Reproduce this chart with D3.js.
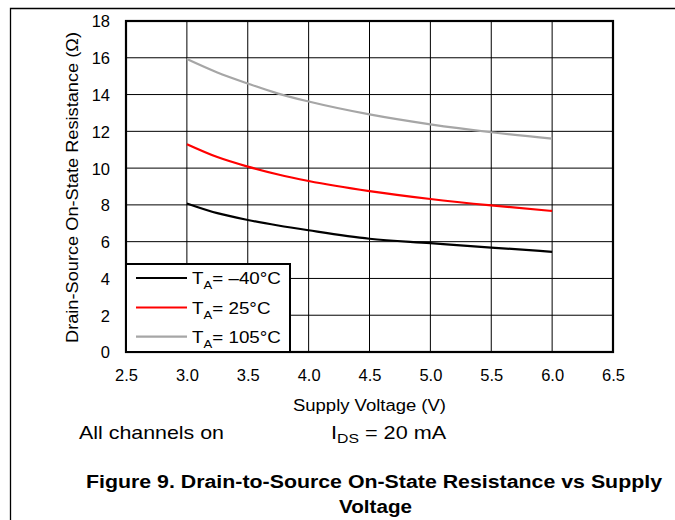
<!DOCTYPE html>
<html>
<head>
<meta charset="utf-8">
<script src="https://cdn.jsdelivr.net/npm/d3@7"></script>
<style>
  html, body { margin: 0; padding: 0; background: #fff; }
  svg { display: block; font-family: "Liberation Sans", Arial, sans-serif; }
</style>
</head>
<body>
<svg id="chart" width="675" height="520"></svg>
<script>
// Supply voltage (V) sample points
const voltage = [3.0, 3.25, 3.5, 3.75, 4.0, 4.5, 5.0, 5.5, 6.0];
// On-state resistance (Ω) per ambient temperature
const rMinus40 = [8.08, 7.55, 7.18, 6.88, 6.62, 6.16, 5.92, 5.68, 5.45];
const r25      = [11.3, 10.6, 10.08, 9.65, 9.3, 8.75, 8.32, 7.97, 7.67];
const r105     = [15.93, 15.2, 14.6, 14.05, 13.62, 12.92, 12.38, 11.95, 11.6];

const seriesNames = ["–40°C", "25°C", "105°C"];
const seriesColors = ["#000000", "#ff0000", "#a6a6a6"];
const seriesValues = [rMinus40, r25, r105];

const xTicks = [2.5, 3.0, 3.5, 4.0, 4.5, 5.0, 5.5, 6.0, 6.5];
const yTicks = [0, 2, 4, 6, 8, 10, 12, 14, 16, 18];

const svg = d3.select("#chart");
const plot = { left: 126, top: 21, right: 613, bottom: 352 };

const x = d3.scaleLinear().domain([2.5, 6.5]).range([plot.left, plot.right]);
const y = d3.scaleLinear().domain([0, 18]).range([plot.bottom, plot.top]);

// Page frame (left and top rules)
svg.append("path")
  .attr("d", "M10.5,520 V8.5 H675")
  .attr("fill", "none").attr("stroke", "#000").attr("stroke-width", 1.3);

// Grid
const grid = svg.append("g").attr("stroke", "#000").attr("stroke-width", 1);
grid.selectAll("line.v").data(xTicks.slice(1, -1)).join("line")
  .attr("x1", d => x(d)).attr("x2", d => x(d))
  .attr("y1", plot.top).attr("y2", plot.bottom);
grid.selectAll("line.h").data(yTicks.slice(1, -1)).join("line")
  .attr("y1", d => y(d)).attr("y2", d => y(d))
  .attr("x1", plot.left).attr("x2", plot.right);

// Axes (labels only, ticks hidden)
const xAxis = d3.axisBottom(x).tickValues(xTicks).tickFormat(d3.format(".1f")).tickSize(0).tickPadding(0);
const gx = svg.append("g").attr("transform", `translate(0,${plot.bottom})`).call(xAxis);
gx.select(".domain").remove();
gx.selectAll("text").attr("font-size", 16.5).attr("fill", "#000")
  .attr("font-family", "'Liberation Sans', Arial, sans-serif")
  .attr("dy", null).attr("y", 29);

const yAxis = d3.axisLeft(y).tickValues(yTicks).tickFormat(d3.format("d")).tickSize(0).tickPadding(0);
const gy = svg.append("g").attr("transform", `translate(${plot.left},0)`).call(yAxis);
gy.select(".domain").remove();
gy.selectAll("text").attr("font-size", 16.5).attr("fill", "#000")
  .attr("font-family", "'Liberation Sans', Arial, sans-serif")
  .attr("x", -16).attr("dy", "0.36em");

// Curves
const line = d3.line()
  .x((d, i) => x(voltage[i]))
  .y(d => y(d))
  .curve(d3.curveMonotoneX);

svg.append("g").selectAll("path").data(seriesValues).join("path")
  .attr("d", d => line(d))
  .attr("fill", "none")
  .attr("stroke", (d, i) => seriesColors[i])
  .attr("stroke-width", 2.2);

// Plot border
svg.append("rect")
  .attr("x", plot.left).attr("y", plot.top)
  .attr("width", plot.right - plot.left).attr("height", plot.bottom - plot.top)
  .attr("fill", "none").attr("stroke", "#000").attr("stroke-width", 2.2);

// Legend
const legend = svg.append("g");
legend.append("rect")
  .attr("x", plot.left).attr("y", 264)
  .attr("width", 164).attr("height", plot.bottom - 264)
  .attr("fill", "#fff").attr("stroke", "#000").attr("stroke-width", 2);
const legendRows = [278, 307.5, 336.7];
seriesNames.forEach((name, i) => {
  const row = legend.append("g");
  row.append("line")
    .attr("x1", 136).attr("x2", 187)
    .attr("y1", legendRows[i]).attr("y2", legendRows[i])
    .attr("stroke", seriesColors[i]).attr("stroke-width", 2.2);
  const t = row.append("text")
    .attr("transform", `translate(192,${legendRows[i] + 6}) scale(1.14,1)`)
    .attr("font-size", 16.5).attr("fill", "#000");
  t.append("tspan").text("T");
  t.append("tspan").attr("font-size", 11.5).attr("dy", 5).text("A");
  t.append("tspan").attr("dy", -5).text("= " + name);
});

// Axis titles
svg.append("text")
  .attr("x", 369.5).attr("y", 411)
  .attr("text-anchor", "middle").attr("font-size", 16)
  .attr("textLength", 153).attr("lengthAdjust", "spacingAndGlyphs")
  .text("Supply Voltage (V)");

svg.append("text")
  .attr("transform", "translate(78,187.5) rotate(-90)")
  .attr("text-anchor", "middle").attr("font-size", 16)
  .attr("textLength", 311).attr("lengthAdjust", "spacingAndGlyphs")
  .text("Drain-Source On-State Resistance (Ω)");

// Conditions
svg.append("text")
  .attr("x", 79).attr("y", 439).attr("font-size", 18.5)
  .attr("textLength", 145).attr("lengthAdjust", "spacingAndGlyphs")
  .text("All channels on");

const ids = svg.append("text")
  .attr("transform", "translate(331,439) scale(1.17,1)")
  .attr("font-size", 18.5);
ids.append("tspan").text("I");
ids.append("tspan").attr("font-size", 13.5).attr("dy", 4).text("DS");
ids.append("tspan").attr("dy", -4).text(" = 20 mA");

// Caption
svg.append("text")
  .attr("x", 374).attr("y", 488)
  .attr("text-anchor", "middle").attr("font-size", 18).attr("font-weight", "bold")
  .attr("textLength", 576).attr("lengthAdjust", "spacingAndGlyphs")
  .text("Figure 9. Drain-to-Source On-State Resistance vs Supply");
svg.append("text")
  .attr("x", 375.5).attr("y", 513)
  .attr("text-anchor", "middle").attr("font-size", 18).attr("font-weight", "bold")
  .attr("textLength", 73).attr("lengthAdjust", "spacingAndGlyphs")
  .text("Voltage");
</script>
</body>
</html>
